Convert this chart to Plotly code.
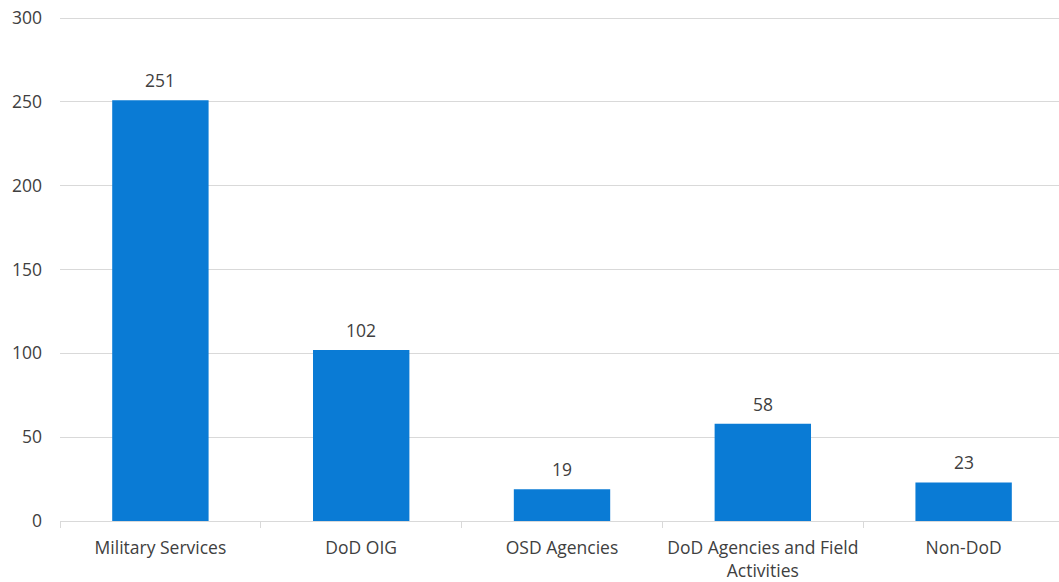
import plotly.graph_objects as go

categories = ["Military Services", "DoD OIG", "OSD Agencies",
              "DoD Agencies and Field<br>Activities", "Non-DoD"]
values = [251, 102, 19, 58, 23]
y_ticks = [0, 50, 100, 150, 200, 250, 300]

BAR = "#0A7BD5"
TXT = "#404040"
GRID = "#D9D9D9"
FONT = "Open Sans, Liberation Sans, sans-serif"
FS = 17.5

fig = go.Figure()
fig.add_trace(go.Bar(x=categories, y=values, marker_color=BAR,
                     marker_line_width=0, width=0.48))

for c, v in zip(categories, values):
    fig.add_annotation(x=c, y=v, text=str(v), showarrow=False,
                       yanchor="bottom", yshift=6,
                       font=dict(size=FS, color=TXT, family=FONT))

fig.update_layout(
    width=1059, height=582,
    margin=dict(l=60, r=0, t=17, b=61),
    paper_bgcolor="white", plot_bgcolor="white",
    showlegend=False,
    font=dict(family=FONT, size=FS, color=TXT),
    xaxis=dict(range=[-0.5, 4.475], showline=True, linecolor=GRID, linewidth=1,
               ticks="outside", tickson="boundaries", ticklen=6, tickcolor=GRID,
               showgrid=False, automargin=False, ticklabelstandoff=11,
               ticklabeloverflow="allow",
               tickfont=dict(size=FS, color=TXT)),
    yaxis=dict(range=[0, 300.6], tickvals=y_ticks, showgrid=True, gridcolor=GRID,
               gridwidth=1, zeroline=False, showline=False, automargin=False,
               ticklabelstandoff=17, ticklabeloverflow="allow",
               tickfont=dict(size=FS, color=TXT)),
)

fig.write_html("out.html", config={"displayModeBar": False},
               post_script="document.body.style.margin='0';")
